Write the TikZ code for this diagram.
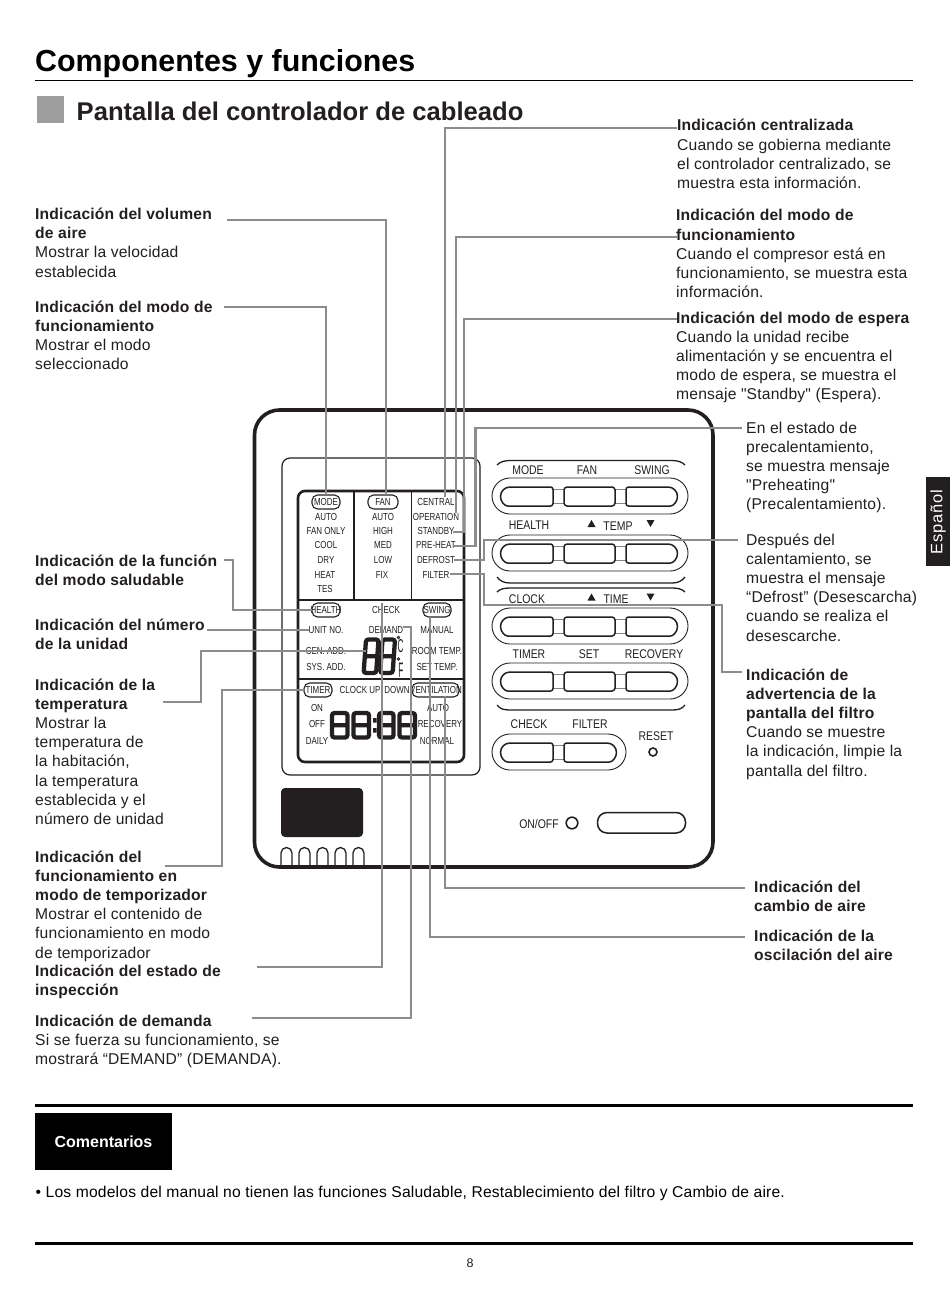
\documentclass[tikz,border=0pt]{standalone}
\usepackage{fontspec}
\setmainfont[Ligatures=TeXOff]{Liberation Sans}
\newfontfamily\nar[FakeStretch=0.78]{Liberation Sans}
\newfontfamily\narp[FakeStretch=0.83]{Liberation Sans}
\definecolor{ink}{HTML}{231F20}
\definecolor{lead}{HTML}{8C8C8C}
\newcommand\lbl[4]{\node[anchor=base west,inner sep=0pt,text=ink] (#1) at (#2,#3) {\fontsize{15.65}{19.2}\selectfont\addfontfeature{LetterSpace=1.2}\setlength\tabcolsep{0pt}\begin{tabular}[t]{l}#4\end{tabular}};}
\newcommand\dig[4]{\draw[digit] (#1,#2) rectangle (#1+#3,#2+#4) (#1,#2+0.5*#4) -- (#1+#3,#2+0.5*#4);}
\tikzset{
 lead/.style={draw=lead,line width=2.2pt},
 digit/.style={draw=ink,line width=4.3pt,rounded corners=2.5pt},
 lcd/.style={font=\nar\fontsize{10.2}{11}\selectfont,inner sep=0pt,text=ink},
 pad/.style={font=\narp\fontsize{12.6}{14}\selectfont,inner sep=0pt,text=ink},
 pill/.style={draw=ink,line width=1.1pt,rounded corners=5.5pt},
 outerpill/.style={draw=ink,line width=0.9pt,rounded corners=18pt},
 brace/.style={draw=ink,line width=1.3pt},
 btn/.style={draw=ink,line width=1.5pt,line join=round},
 link/.style={draw=ink!55,line width=0.8pt},
}
\newcommand\row[1]{%
 \draw[outerpill] (492,#1) rectangle (688,#1+36);
 \draw[link] (553,#1+11) rectangle (564,#1+25) (615,#1+11) rectangle (626,#1+25);
 \draw[btn,rounded corners=2.5pt] (540,#1+9) -- (553,#1+9) -- (553,#1+28) -- (510,#1+28) [sharp corners] arc[start angle=90,end angle=270,radius=9.5] -- cycle;
 \draw[btn,rounded corners=3pt] (564,#1+9) rectangle (615,#1+28);
 \draw[btn,rounded corners=2.5pt] (640,#1+9) -- (626,#1+9) -- (626,#1+28) -- (668,#1+28) [sharp corners] arc[start angle=90,end angle=-90,radius=9.5] -- cycle;
}
\begin{document}
\begin{tikzpicture}[x=1pt,y=-1pt]
\useasboundingbox (0,0) rectangle (950,1289);
\fill[white] (0,0) rectangle (950,1289);
% headings
\node[anchor=base west,inner sep=0pt,font=\bfseries\fontsize{30.4}{36}\selectfont] (title) at (35,72) {Componentes y funciones};
\draw[black,line width=1pt] (35,80.5) -- (913,80.5);
\fill[black!38] (37,96) rectangle (64,123);
\node[anchor=base west,inner sep=0pt,text=ink,font=\bfseries\fontsize{25.6}{30}\selectfont] (sub) at (76.5,121) {Pantalla del controlador de cableado};
% device
\draw[ink,line width=3.6pt,rounded corners=25pt] (254.5,410) rectangle (713,867);
\draw[ink,line width=1.2pt,rounded corners=8pt] (282,458) rectangle (480,775);
\draw[ink,line width=2.6pt,rounded corners=7pt] (298,491) rectangle (464,762);
\draw[ink,line width=1.4pt] (298,600) -- (464,600) (298,679) -- (464,679) (354,491) -- (354,600) (411.5,491) -- (411.5,600);
% lcd pills
\draw[pill] (312,495) rectangle (340,509);
\draw[pill] (368,495) rectangle (398,509);
\draw[pill] (312,603) rectangle (340,617);
\draw[pill] (423,603) rectangle (451,617);
\draw[pill] (304,683) rectangle (332,697);
\draw[pill] (412,683) rectangle (459,697);
% lcd texts
\foreach \n/\x/\y/\t in {a1/326/502/MODE,a2/326/517/AUTO,a3/326/531/FAN ONLY,a4/326/545/COOL,a5/326/560/DRY,a6/325/575/HEAT,a7/325/589/TES,
 b1/383/502/FAN,b2/383/517/AUTO,b3/383/531/HIGH,b4/383/545/MED,b5/383/560/LOW,b6/382/575/FIX,
 c1/436/502/CENTRAL,c2/436/517/OPERATION,c3/436/531/STANDBY,c4/436/545/PRE-HEAT,c5/436/560/DEFROST,c6/436/575/FILTER,
 d1/326/610/HEALTH,d2/386/610/CHECK,d3/437/610/SWING,d4/326/630/UNIT NO.,d5/386/630/DEMAND,d6/437/630/MANUAL,
 d7/326/651/CEN. ADD.,d8/437/651/ROOM TEMP.,d9/326/667/SYS. ADD.,d10/437/667/SET TEMP.,
 e1/318/690/TIMER,e2/360/690/CLOCK UP,e3/397/690/DOWN,e4/436/690/VENTILATION,
 e5/317/708/ON,e6/317/724/OFF,e7/317/741/DAILY,e8/438/708/AUTO,e9/440/724/RECOVERY,e10/437/741/NORMAL}
 {\node[lcd] (\n) at (\x,\y) {\t};}
% digits
\begin{scope}[shift={(366,639.5)},xslant=0.07]
\dig{0}{0}{12.5}{33.5}
\dig{16.5}{0}{12.5}{33.5}
\end{scope}
\dig{332}{713}{15.5}{24.5}
\dig{353.5}{713}{15.5}{24.5}
\fill[ink] (373,718) rectangle (376.5,722.5) (373,728) rectangle (376.5,732.5);
\dig{379}{713}{14.5}{24.5}
\dig{399.5}{713}{15.5}{24.5}
\node[inner sep=0pt,text=ink] (degc) at (400.5,646) {\scalebox{0.75}[1.7]{\fontsize{11}{12}\selectfont C}};
\node[inner sep=0pt,text=ink] (degf) at (401,670.5) {\scalebox{0.75}[1.9]{\fontsize{11}{12}\selectfont F}};
\draw[ink,line width=0.9pt] (398.5,637.5) circle (1.3) (398.5,659) circle (1.3);
% screen and fingers
\fill[ink,rounded corners=4pt] (281,788) rectangle (363,837);
\foreach \x in {281,299,317,335,353}
 \draw[ink,line width=1.3pt] (\x,866) -- (\x,853) arc[start angle=180,end angle=360,radius=5.5] -- (\x+11,866);
% pad
\row{478}\row{535}\row{608}\row{663}
\draw[outerpill] (492,734) rectangle (626,770);
\draw[link] (553,745) rectangle (564,759);
\draw[btn,rounded corners=2.5pt] (540,743) -- (553,743) -- (553,762) -- (510,762) [sharp corners] arc[start angle=90,end angle=270,radius=9.5] -- cycle;
\draw[btn,rounded corners=2.5pt] (580,743) -- (564,743) -- (564,762) -- (607,762) [sharp corners] arc[start angle=90,end angle=-90,radius=9.5] -- cycle;
\draw[brace] (497,465) .. controls (500,462) and (504,460.5) .. (510,460.5) -- (672,460.5) .. controls (678,460.5) and (682,462) .. (685,465);
\draw[brace] (497,577) .. controls (500,581) and (504,583) .. (510,583) -- (672,583) .. controls (678,583) and (682,581) .. (685,577);
\draw[brace] (497,592) .. controls (500,589) and (504,588) .. (510,588) -- (672,588) .. controls (678,588) and (682,589) .. (685,592);
\draw[brace] (497,705) .. controls (500,709) and (504,710) .. (510,710) -- (672,710) .. controls (678,710) and (682,709) .. (685,705);
\foreach \n/\x/\y/\t in {p1/528/470/MODE,p2/587/470/FAN,p3/652/470/SWING,p4/529/525/HEALTH,p5/618/526/TEMP,p6/527/599/CLOCK,p7/616/599/TIME,
 p8/529/654/TIMER,p9/589/654/SET,p10/654/654/RECOVERY,p11/529/724/CHECK,p12/590/724/FILTER,p13/656/736/RESET,p14/539/824/{ON/OFF}}
 {\node[pad] (\n) at (\x,\y) {\t};}
\fill[ink] (587.5,527) -- (591.5,520) -- (595.5,527) -- cycle;
\fill[ink] (587.5,600.5) -- (591.5,593.5) -- (595.5,600.5) -- cycle;
\fill[ink] (646.5,520) -- (654.5,520) -- (650.5,527) -- cycle;
\fill[ink] (646.5,593.5) -- (654.5,593.5) -- (650.5,600.5) -- cycle;
\draw[ink,line width=1.6pt] (653,752) circle (4);
\draw[ink,line width=1.6pt] (572,823) circle (5.8);
\draw[ink,line width=1.5pt,rounded corners=9.5pt] (597.5,812.5) rectangle (685.5,833);
% text blocks
\lbl{t1}{677}{131}{\textbf{Indicación centralizada}\\Cuando se gobierna mediante\\el controlador centralizado, se\\muestra esta información.}
\lbl{t2}{676}{221}{\textbf{Indicación del modo de}\\\textbf{funcionamiento}\\Cuando el compresor está en\\funcionamiento, se muestra esta\\información.}
\lbl{t3}{676}{323}{\textbf{Indicación del modo de espera}\\Cuando la unidad recibe\\alimentación y se encuentra el\\modo de espera, se muestra el\\mensaje "Standby" (Espera).}
\lbl{t4}{746}{433}{En el estado de\\precalentamiento,\\se muestra mensaje\\"Preheating"\\(Precalentamiento).}
\lbl{t5}{746}{545}{Después del\\calentamiento, se\\muestra el mensaje\\“Defrost” (Desescarcha)\\cuando se realiza el\\desescarche.}
\lbl{t6}{746}{680}{\textbf{Indicación de}\\\textbf{advertencia de la}\\\textbf{pantalla del filtro}\\Cuando se muestre\\la indicación, limpie la\\pantalla del filtro.}
\lbl{t7}{754}{892}{\textbf{Indicación del}\\\textbf{cambio de aire}}
\lbl{t8}{754}{941}{\textbf{Indicación de la}\\\textbf{oscilación del aire}}
\lbl{l1}{35}{219.5}{\textbf{Indicación del volumen}\\\textbf{de aire}\\Mostrar la velocidad\\establecida}
\lbl{l2}{35}{312}{\textbf{Indicación del modo de}\\\textbf{funcionamiento}\\Mostrar el modo\\seleccionado}
\lbl{l3}{35}{566}{\textbf{Indicación de la función}\\\textbf{del modo saludable}}
\lbl{l4}{35}{630}{\textbf{Indicación del número}\\\textbf{de la unidad}}
\lbl{l5}{35}{690}{\textbf{Indicación de la}\\\textbf{temperatura}\\Mostrar la\\temperatura de\\la habitación,\\la temperatura\\establecida y el\\número de unidad}
\lbl{l6}{35}{862}{\textbf{Indicación del}\\\textbf{funcionamiento en}\\\textbf{modo de temporizador}\\Mostrar el contenido de\\funcionamiento en modo\\de temporizador}
\lbl{l7}{35}{976}{\textbf{Indicación del estado de}\\\textbf{inspección}}
\lbl{l8}{35}{1026}{\textbf{Indicación de demanda}\\Si se fuerza su funcionamiento, se\\mostrará “DEMAND” (DEMANDA).}
% leader end points
\foreach \n/\x/\y in {s1/677/128,e1a/445/497,s2/677/237,e2a/456/513,s3/677/319,e3a/453/532,s4/742/428,e4a/454/546,
 s5/738/540,e5a/454/560,s6/742/672,e6a/450/574,s7/227/220,e7a/386/495,s8/224/307,e8a/326/495,
 s9/224/560,e9a/312/610,s10/207/630,e10a/309/630,s11/163/702,e11a/366/651,s12/165/866,e12a/304/690,
 s13/257/967,e13a/382/603,s14/252/1018,e14a/403/627,s15/745/888,e15a/445/696,s16/745/937,e16a/430/617}
 {\coordinate (\n) at (\x,\y);}
% leaders
\draw[lead] (s1) -| (e1a);
\draw[lead] (s2) -| (e2a);
\draw[lead] (s3) -- (464,319) |- (e3a);
\draw[lead] (s4) -- (475.5,428) |- (e4a);
\draw[lead] (s5) -- (484,540) |- (e5a);
\draw[lead] (s6) -- (722,672) -- (722,605) -- (484,605) |- (e6a);
\draw[lead] (s7) -| (e7a);
\draw[lead] (s8) -| (e8a);
\draw[lead] (s9) -- (233,560) |- (e9a);
\draw[lead] (s10) -- (e10a);
\draw[lead] (s11) -- (201,702) |- (e11a);
\draw[lead] (s12) -- (222,866) |- (e12a);
\draw[lead] (s13) -| (e13a);
\draw[lead] (s14) -- (411,1018) |- (e14a);
\draw[lead] (s15) -| (e15a);
\draw[lead] (s16) -| (e16a);
% bottom
\draw[black,line width=2.4pt] (35,1105.5) -- (913,1105.5);
\node[fill=black,text=white,minimum width=137pt,minimum height=57pt,inner sep=0pt,font=\bfseries\fontsize{16}{18}\selectfont] (com) at (103.5,1141.5) {Comentarios};
\node[anchor=base west,inner sep=0pt,font=\fontsize{15.65}{18}\selectfont\addfontfeature{LetterSpace=1.2}] (note) at (35.5,1197) {• Los modelos del manual no tienen las funciones Saludable, Restablecimiento del filtro y Cambio de aire.};
\draw[black,line width=2.4pt] (35,1243.5) -- (913,1243.5);
\node[inner sep=0pt,text=ink,font=\fontsize{12.5}{14}\selectfont] (pg) at (470,1263) {8};
\node[fill=ink,minimum width=24pt,minimum height=89pt,inner sep=0pt] (tab) at (938,521.5) {};
\node[rotate=90,text=white,inner sep=0pt,font=\fontsize{16.5}{18}\selectfont\addfontfeature{LetterSpace=5}] (tabt) at (938,522) {Español};
\end{tikzpicture}
\end{document}
